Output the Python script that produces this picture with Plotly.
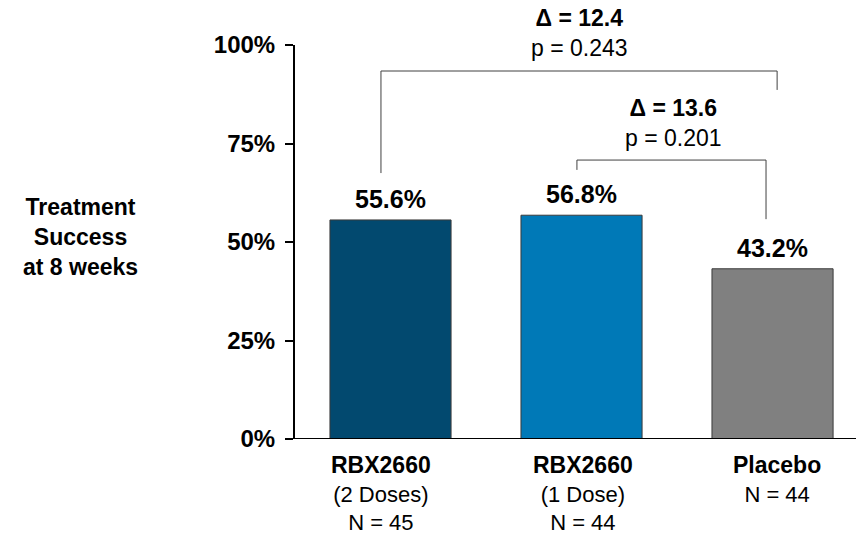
import plotly.graph_objects as go

# Treatment success at 8 weeks by arm
arm_names = ["RBX2660", "RBX2660", "Placebo"]
arm_details = ["(2 Doses)", "(1 Dose)", ""]
arm_n = [45, 44, 44]
success_pct = [55.6, 56.8, 43.2]
bar_colors = ["#02496F", "#0079B7", "#808080"]

# Pairwise comparisons against placebo
comparisons = [(0, 2), (1, 2)]
p_values = ["0.243", "0.201"]

y_ticks = [0, 25, 50, 75, 100]
y_tick_labels = [f"<b>{v}%</b>" for v in y_ticks]

FONT = "Liberation Sans, Arial, sans-serif"
W, H = 856, 535
M_L, M_R, M_T, M_B = 295, 0, 45, 96
plot_w = W - M_L - M_R
plot_h = H - M_T - M_B
x_pos = list(range(len(success_pct)))

fig = go.Figure()
fig.add_trace(go.Bar(
    x=x_pos,
    y=success_pct,
    width=0.634,
    marker=dict(color=bar_colors, line=dict(color="#3a3a3a", width=1)),
    hoverinfo="skip",
))

# value labels above bars
annotations = []
for i, v in enumerate(success_pct):
    annotations.append(dict(
        x=i, y=v, xref="x", yref="y", text=f"<b>{v:.1f}%</b>",
        showarrow=False, yanchor="bottom", yshift=5,
        font=dict(family=FONT, size=25, color="#000000"),
    ))

# category labels under the axis
label_nudge = [-10, 1, 4]
for i in x_pos:
    lines = [f"<b><span style='font-size:23px'>{arm_names[i]}</span></b>"]
    if arm_details[i]:
        lines.append(arm_details[i])
    lines.append(f"N = {arm_n[i]}")
    annotations.append(dict(
        x=i, y=-0.028, xref="x", yref="paper", text="<br>".join(lines),
        showarrow=False, yanchor="top", xshift=label_nudge[i],
        font=dict(family=FONT, size=22, color="#000000"),
    ))

# y-axis title on the left
annotations.append(dict(
    x=(80 - M_L) / plot_w, y=0.513, xref="paper", yref="paper",
    text="<b>Treatment<br>Success<br>at 8 weeks</b>", showarrow=False,
    xanchor="center", yanchor="middle", align="center",
    font=dict(family=FONT, size=23, color="#000000"),
))

# comparison brackets: (left x, right x, top y, left leg bottom, right leg bottom)
bracket_geom = [
    (-0.05, 2.024, 93.4, 67.5, 88.6),
    (0.976, 1.966, 70.8, 68.3, 55.8),
]
# centre of the two-line text above each bracket (x in data units, y in pixels from top)
bracket_text_pos = [(0.987, 33.5), (1.484, 123.0)]

shapes = []
for k, (a, b) in enumerate(comparisons):
    xl, xr, yt, yl, yr = bracket_geom[k]
    path = f"M {xl},{yl} L {xl},{yt} L {xr},{yt} L {xr},{yr}"
    shapes.append(dict(type="path", path=path, xref="x", yref="y",
                       line=dict(color="#404040", width=1)))
    delta = success_pct[a] - success_pct[b]
    tx, ty = bracket_text_pos[k]
    annotations.append(dict(
        x=tx, y=(H - M_B - ty) / plot_h, xref="x", yref="paper",
        text=f"<b>Δ = {delta:.1f}</b><br>p = {p_values[k]}",
        showarrow=False, xanchor="center", yanchor="middle", align="center",
        font=dict(family=FONT, size=23, color="#000000"),
    ))

# baseline extending slightly left of the y-axis
shapes.append(dict(type="line", xref="paper", yref="y", x0=-10 / plot_w, x1=1,
                   y0=0, y1=0, line=dict(color="#000000", width=2)))

fig.update_layout(
    width=W, height=H,
    margin=dict(l=M_L, r=M_R, t=M_T, b=M_B, pad=0),
    paper_bgcolor="white", plot_bgcolor="white",
    showlegend=False,
    annotations=annotations,
    shapes=shapes,
    xaxis=dict(range=[-0.5, 2.437], showline=False, showgrid=False,
               zeroline=False, showticklabels=False, ticks=""),
    yaxis=dict(range=[0, 100], tickvals=y_ticks, ticktext=y_tick_labels,
               ticks="outside", ticklen=8, tickwidth=2, tickcolor="#000000",
               showline=True, linewidth=2, linecolor="#000000",
               showgrid=False, zeroline=False, ticklabelstandoff=5,
               tickfont=dict(family=FONT, size=24, color="#000000")),
)

fig.write_html("out.html")
